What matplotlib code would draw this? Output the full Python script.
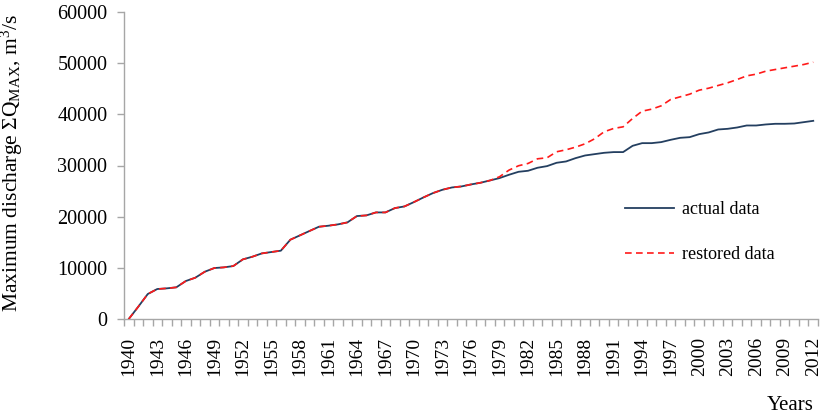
import matplotlib
matplotlib.use("Agg")
import matplotlib.pyplot as plt
from matplotlib.ticker import FixedLocator

plt.rcParams['font.family'] = ['Liberation Serif', 'DejaVu Serif']
plt.rcParams['mathtext.fontset'] = 'custom'
plt.rcParams['mathtext.rm'] = 'Liberation Serif'
plt.rcParams['mathtext.it'] = 'Liberation Serif:italic'

years = list(range(1940, 2013))

actual = [0, 2400, 4880, 5860, 5990, 6190, 7420, 8070, 9240, 9960,
          10090, 10350, 11650, 12170, 12820, 13090, 13350, 15500, 16340, 17190,
          18030, 18230, 18490, 18880, 20120, 20250, 20830, 20830, 21680, 22000,
          22850, 23760, 24610, 25260, 25710, 25910, 26300, 26630, 27080, 27540,
          28190, 28770, 28970, 29560, 29880, 30530, 30790, 31440, 31960, 32220,
          32480, 32620, 32620, 33850, 34370, 34370, 34570, 35020, 35410, 35540,
          36130, 36460, 37040, 37170, 37430, 37820, 37820, 38020, 38150, 38150,
          38210, 38470, 38730]

restored = actual[:39] + [27800,
          29100, 29950, 30400, 31310, 31510, 32680, 33070, 33590, 34240, 35220,
          36590, 37240, 37560, 39190, 40620, 41010, 41660, 42900, 43420, 43940,
          44720, 45110, 45640, 46160, 46810, 47520, 47850, 48430, 48760, 49090,
          49410, 49740, 50190]

yticks = [0, 10000, 20000, 30000, 40000, 50000, 60000]
xtick_years = list(range(1940, 2013, 3))

fig = plt.figure(figsize=(8.33, 4.18), dpi=100)
ax = fig.add_axes([124/833, 1-319/418, (818-124)/833, (319-12)/418])

ax.plot(years, actual, color='#243f60', lw=1.3, label='actual data', zorder=2)
ax.plot(years, restored, color='#ff1a1a', lw=1.2, ls=(0, (4, 2.6)), label='restored data', zorder=3)

ax.set_xlim(1939.5, 2012.5)
ax.set_ylim(0, 60000)
ax.set_yticks(yticks)
ax.set_yticklabels([str(v) for v in yticks], fontsize=14.5)

ax.xaxis.set_major_locator(FixedLocator(xtick_years))
ax.set_xticklabels([str(y) for y in xtick_years], rotation=90, fontsize=14)
ax.xaxis.set_minor_locator(FixedLocator([1939.5 + k for k in range(74)]))
ax.tick_params(axis='x', which='major', length=0, pad=13)
ax.tick_params(axis='x', which='minor', length=5, color='#a6a6a6', width=1)
ax.tick_params(axis='y', length=5, color='#a6a6a6', width=1, pad=7)

for s in ['top', 'right']:
    ax.spines[s].set_visible(False)
for s in ['left', 'bottom']:
    ax.spines[s].set_color('#a6a6a6')
    ax.spines[s].set_linewidth(1)

leg = ax.legend(loc='upper left', bbox_to_anchor=((618-124)/694, 1-(194-12)/307),
                frameon=False, fontsize=13, handlelength=2.7, handletextpad=0.45,
                labelspacing=1.55, borderaxespad=0)

fig.text(12/833, 1-163/418, r'Maximum discharge ΣQ$_{\mathrm{MAX}}$, m$^{3}$/s',
         rotation=90, ha='center', va='center', fontsize=15.5)
fig.text(790/833, 1-405/418, 'Years', ha='center', va='center', fontsize=15)

fig.savefig('out.png', dpi=100)
